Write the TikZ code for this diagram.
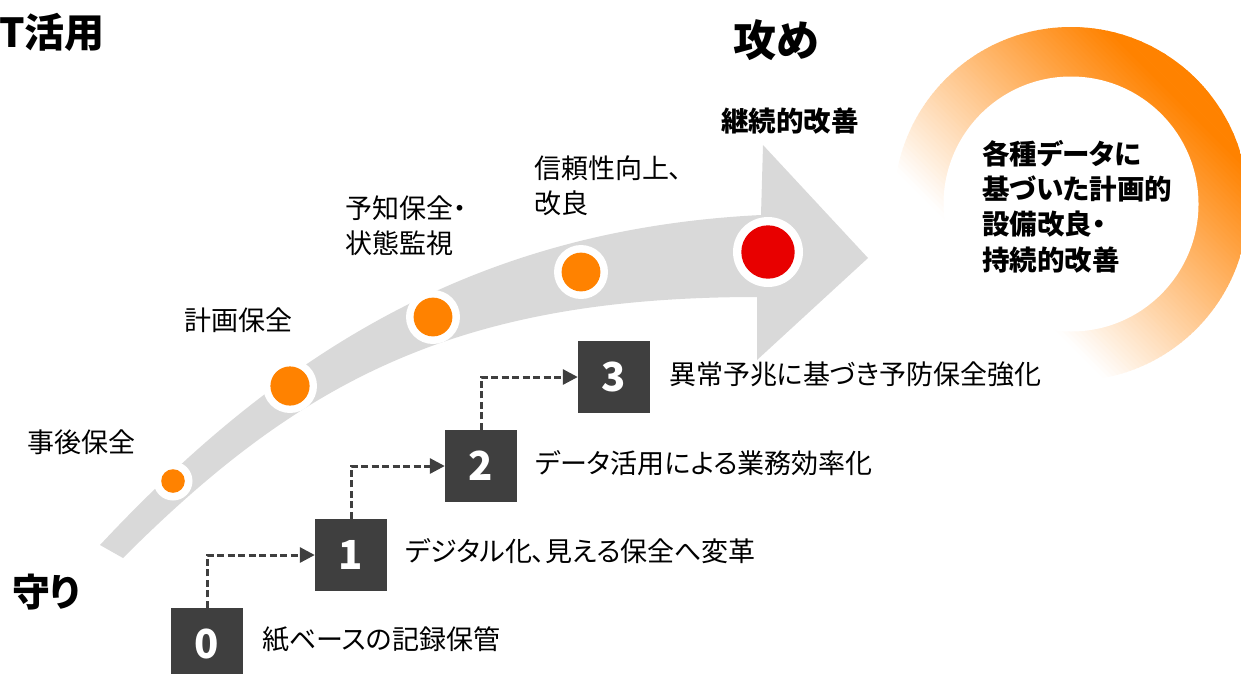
\documentclass[tikz,border=0pt]{standalone}
\usepackage{fontspec}
\setmainfont{Noto Sans CJK JP}[RawFeature=+palt]
\usetikzlibrary{arrows.meta}
\definecolor{bandc}{HTML}{D9D9D9}
\definecolor{orng}{HTML}{FF8200}
\definecolor{redd}{HTML}{E80000}
\definecolor{boxc}{HTML}{3F3F3F}
\tikzset{
  lbl/.style={font=\fontsize{27}{35}\selectfont, anchor=west, inner sep=0pt, align=left, text=black},
  blbl/.style={font=\fontsize{27.5}{35.3}\selectfont\bfseries, anchor=west, inner sep=0pt, align=left, text=black},
  numbox/.style={rectangle, fill=boxc, minimum width=72pt, minimum height=72pt, inner sep=0pt,
                 text=white, font=\fontsize{40}{40}\selectfont\bfseries},
  conn/.style={draw=boxc, line width=3pt, dash pattern=on 7pt off 3.5pt,
               -{Triangle[length=15pt, width=15pt]}},
  ringw/.style={fill=white},
  dotor/.style={fill=orng},
}
\begin{document}
\begin{tikzpicture}[x=1pt, y=-1pt]
\useasboundingbox (0,0) rectangle (1241,673);
\clip (0,0) rectangle (1241,673);

% big arrow band
\fill[bandc] (100,545) .. controls (284,348) and (481,229) .. (761,215)
   -- (763,145) -- (868,258) -- (757,360) -- (757,297)
   .. controls (457,297) and (300,381) .. (123,558) -- cycle;

% dots on the band
\fill[ringw] (173,481) circle (19.5pt);
\fill[dotor] (173,481) circle (11.8pt);
\fill[ringw] (290,386) circle (27pt);
\fill[dotor] (290,386) circle (19.6pt);
\fill[ringw] (433,317) circle (27pt);
\fill[dotor] (433,317) circle (19.4pt);
\fill[ringw] (581,272) circle (27pt);
\fill[dotor] (581,272) circle (19.4pt);
\fill[ringw] (768,252) circle (35pt);
\fill[redd] (768,252) circle (26.7pt);

% gradient ring
\begin{scope}
  \clip (1071,204) circle (177pt);
  \begin{scope}[shift={(1071,204)}, rotate=45]
    \foreach \i in {0,...,89} {
      \pgfmathsetmacro\tt{-180+4*\i}
      \pgfmathsetmacro\pp{max(0,min(100,(\tt+2+100)/250*100))}
      \fill[orng!\pp!white] (\tt,-190) rectangle (\tt+4.6,190);
    }
  \end{scope}
\end{scope}
\fill[white] (1071,204) circle (127.5pt);

% titles
\node[anchor=east, inner sep=0pt, font=\fontsize{40}{40}\selectfont\bfseries] (tit) at (105,32) {T活用};
\node[inner sep=0pt, font=\fontsize{43}{43}\selectfont\bfseries] (seme) at (776,40) {攻め};
\node[inner sep=0pt, font=\fontsize{38}{38}\selectfont\bfseries] (mamori) at (46,592) {守り};

% labels on the band
\node[lbl] (l1) at (27,442) {事後保全};
\node[lbl] (l2) at (184,320) {計画保全};
\node[lbl] (l3) at (345,225.5) {予知保全・\\状態監視};
\node[lbl] (l4) at (534,185.5) {信頼性向上、\\改良};
\node[blbl] (l5) at (721,121) {継続的改善};

% ring text
\node[blbl] (rt) at (982,206.5) {各種データに\\基づいた計画的\\設備改良・\\持続的改善};

% step boxes
\node[numbox] (b0) at (207,644) {0};
\node[numbox] (b1) at (351,555) {1};
\node[numbox] (b2) at (481,466) {2};
\node[numbox] (b3) at (614,377) {3};

\draw[conn] (b0.north) |- (b1.west);
\draw[conn] (b1.north) |- (b2.west);
\draw[conn] (b2.north) |- (b3.west);

\node[lbl] (s0) at (262,639) {紙ベースの記録保管};
\node[lbl] (s1) at (405,551) {デジタル化、見える保全へ変革};
\node[lbl] (s2) at (535,463) {データ活用による業務効率化};
\node[lbl] (s3) at (669,374) {異常予兆に基づき予防保全強化};
\end{tikzpicture}
\end{document}
